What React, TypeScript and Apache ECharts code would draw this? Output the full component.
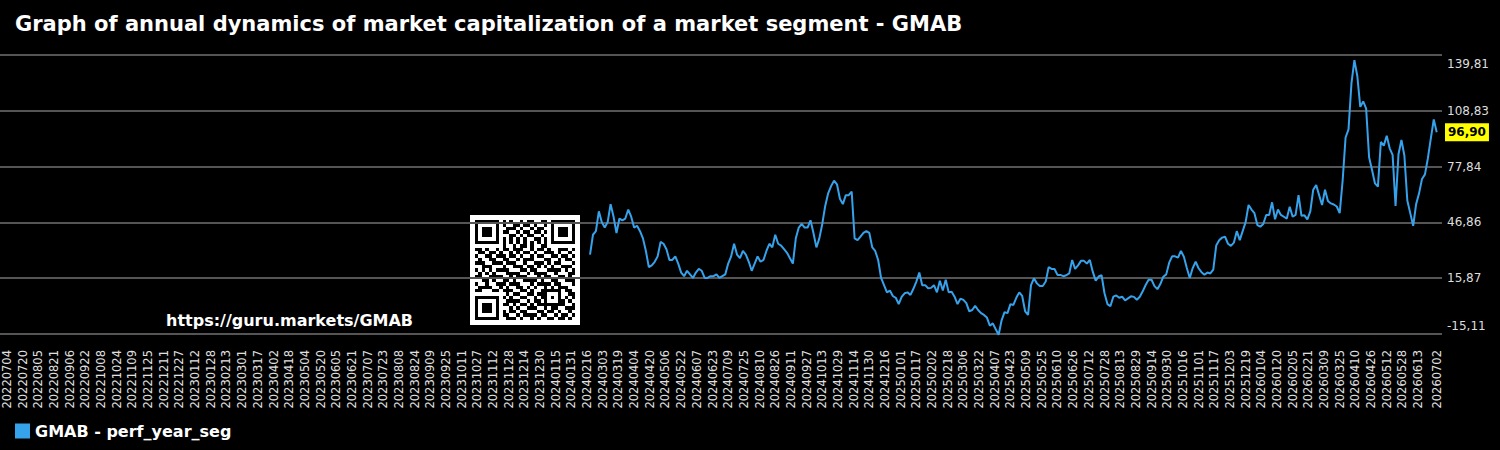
import React, { useEffect, useRef } from "react";
import * as echarts from "echarts";

const FONT = "DejaVu Sans";
const TITLE = "Graph of annual dynamics of market capitalization of a market segment - GMAB";
const SERIES_NAME = "GMAB - perf_year_seg";
const WATERMARK = "https://guru.markets/GMAB";

// Day axis: one slot per calendar day, a label every 16 days plus the last day.
const AXIS_START = "20220704";
const AXIS_END = "20260702";
const LABEL_STEP_DAYS = 16;

// perf_year_seg, sampled every 3 days starting on SERIES_START.
const SERIES_START = "20240219";
const SAMPLE_STEP_DAYS = 3;
const perfYearSeg = [
  29, 40, 42, 53, 47, 44, 47, 57, 50, 41,
  49, 48, 49, 54, 50, 44, 45, 42, 38, 31,
  22, 23, 25, 28, 36, 35, 32, 26, 26, 28,
  24, 19, 17, 20, 18, 16, 19, 21, 20, 16,
  16, 17, 17, 18, 16, 17, 18, 24, 28, 35,
  29, 27, 31, 29, 25, 20, 24, 28, 25, 26,
  31, 35, 33, 40, 35, 34, 32, 30, 27, 24,
  38, 44, 46, 44, 44, 48, 41, 33, 38, 46,
  56, 63, 67, 70, 68, 60, 57, 62, 62, 64,
  38, 37, 39, 41, 42, 41, 33, 31, 26, 16,
  12, 8, 9, 6, 5, 1.5, 5.5, 7.5, 8, 6.6,
  10, 14, 19, 12, 12, 10.3, 10.5, 12, 8, 14.5,
  9, 15, 8, 8.4, 5.6, 1.5, 4.5, 3.8, 2, -2.5,
  -1.8, 0.5, -1.8, -3.5, -4.5, -6, -10.5, -9.2, -12.5, -15.5,
  -7.5, -3, -3.5, 1.5, 1, 5, 8, 6, -2.5, -4.5,
  12, 15.8, 13, 11.5, 11.5, 14, 22, 21, 21, 17.7,
  17.7, 17, 17.5, 18.5, 26, 21, 23, 25.5, 25.5, 24,
  26, 19.5, 14.5, 16.8, 17.5, 7.5, 1.5, 0.3, 5.6, 6.3,
  5, 5.6, 3.5, 4.7, 5.8, 5.5, 3.9, 5.6, 8.6, 12.1,
  15, 15, 11.5, 9.8, 12.6, 16.7, 18, 24.5, 28, 28,
  27.3, 31, 27.8, 21.5, 16, 21.5, 25, 21.4, 19.2, 17.8,
  19, 18.5, 20.6, 34, 37, 38.4, 38.9, 35, 33.8, 35.6,
  42, 37, 42, 47, 56.5, 54, 52, 45.4, 44.5, 46,
  51, 51, 58, 48.6, 54, 51, 50, 49, 55.6, 50,
  51, 62, 50.5, 50.8, 48.5, 53, 65, 67.6, 62, 56.5,
  65, 58.7, 57.4, 56.8, 55.7, 52, 70, 94, 98.5, 124,
  137, 128, 111, 114, 110, 83, 76, 68.5, 66.7, 91.5,
  89.5, 95, 88, 84.3, 56, 84.7, 92.6, 84, 59, 52,
  45, 57, 63, 71, 73.5, 82.5, 93.5, 104, 96.9,
];

// Value axis ticks.
const yTicks = [-15.11, 15.874, 46.858, 77.842, 108.826, 139.81];

// Decorative QR block modules (overlaid with finder / timing / alignment marks).
const QR_BITS = [
  "10110011101001011001110100110",
  "01101100100110110100101101001",
  "11010110011101001011011010110",
  "00101101110010110110100101101",
  "11001001001101011001011010010",
  "01110110101010100110101101101",
  "10101010101010101010101010101",
  "11011001100101101001101100110",
  "11010010110111001011010011101",
  "01101101001010110100111010010",
  "10011011101101001011001101101",
  "01001100110010111000110010110",
  "11100111011100100111010110001",
  "00111000100111011010101001110",
  "10101011110001101100011110101",
  "01010100011110010111100100011",
  "11001111001011100010110011010",
  "00110100110100111101001100111",
  "10010011101110001011110110001",
  "01111001010011010100101011100",
  "11000110111001101001011110110",
  "00101110010110011011001010011",
  "10110101101001100101110100101",
  "01001011011110010110101101010",
  "11101000110101101011010011001",
  "00110111001010011100101100111",
  "10011100101101100011011010010",
  "01100011110010111101100101101",
  "11011010011101001010011011010",
];

const DAY_MS = 86400000;
const parseYmd = (s: string) =>
  Date.UTC(+s.slice(0, 4), +s.slice(4, 6) - 1, +s.slice(6, 8));
const dayIndex = (s: string) => Math.round((parseYmd(s) - parseYmd(AXIS_START)) / DAY_MS);
const formatDay = (i: number) => {
  const d = new Date(parseYmd(AXIS_START) + Math.round(i) * DAY_MS);
  const m = String(d.getUTCMonth() + 1).padStart(2, "0");
  const dd = String(d.getUTCDate()).padStart(2, "0");
  return `${d.getUTCFullYear()}${m}${dd}`;
};
const fmtNum = (v: number) => Number(v).toFixed(2).replace(".", ",");

function buildQr() {
  const N = 29;
  const grid: number[][] = [];
  for (let r = 0; r < N; r++) {
    const row: number[] = [];
    for (let c = 0; c < N; c++) row.push((QR_BITS[r] || "").charAt(c) === "1" ? 1 : 0);
    grid.push(row);
  }
  const finder = (r0: number, c0: number) => {
    for (let r = -1; r <= 7; r++)
      for (let c = -1; c <= 7; c++) {
        const rr = r0 + r, cc = c0 + c;
        if (rr < 0 || cc < 0 || rr >= N || cc >= N) continue;
        const ring = r === 0 || r === 6 || c === 0 || c === 6;
        const core = r >= 2 && r <= 4 && c >= 2 && c <= 4;
        const inside = r >= 0 && r <= 6 && c >= 0 && c <= 6;
        grid[rr][cc] = inside && (ring || core) ? 1 : 0;
      }
  };
  finder(0, 0);
  finder(0, 22);
  finder(22, 0);
  for (let i = 8; i <= 20; i++) {
    grid[6][i] = i % 2 === 0 ? 1 : 0;
    grid[i][6] = i % 2 === 0 ? 1 : 0;
  }
  for (let r = -2; r <= 2; r++)
    for (let c = -2; c <= 2; c++) {
      const edge = Math.abs(r) === 2 || Math.abs(c) === 2;
      grid[22 + r][22 + c] = edge || (r === 0 && c === 0) ? 1 : 0;
    }

  const size = 110;
  const pad = 5;
  const mod = (size - 2 * pad) / N;
  const pos = (k: number) => Math.round(pad + k * mod);
  const children: any[] = [
    { type: "rect", shape: { x: 0, y: 0, width: size, height: size }, style: { fill: "#ffffff" } },
  ];
  for (let r = 0; r < N; r++) {
    let c = 0;
    while (c < N) {
      if (grid[r][c] === 1) {
        let e = c;
        while (e < N && grid[r][e] === 1) e++;
        children.push({
          type: "rect",
          shape: { x: pos(c), y: pos(r), width: pos(e) - pos(c), height: pos(r + 1) - pos(r) },
          style: { fill: "#000000" },
        });
        c = e;
      } else c++;
    }
  }
  return { type: "group", x: 470, y: 215, silent: true, children };
}

export default function App() {
  const ref = useRef<HTMLDivElement>(null);

  useEffect(() => {
    if (!ref.current) return;
    const chart = echarts.init(ref.current, null, { renderer: "svg" });

    // Regular labels every 16 days; the final day gets its own label and
    // crowds out a regular one that would sit right next to it.
    const lastDay = dayIndex(AXIS_END);
    const xLabels: number[] = [];
    for (let i = 0; i <= lastDay; i += LABEL_STEP_DAYS) {
      if (lastDay - i >= LABEL_STEP_DAYS / 2) xLabels.push(i);
    }
    xLabels.push(lastDay);

    const start = dayIndex(SERIES_START);
    const data = perfYearSeg.map((v, k) => [start + k * SAMPLE_STEP_DAYS, v]);
    const lastValue = perfYearSeg[perfYearSeg.length - 1];

    chart.setOption({
      animation: false,
      backgroundColor: "#000000",
      textStyle: { fontFamily: FONT },
      title: {
        text: TITLE,
        left: 10,
        top: 8,
        textStyle: { color: "#ffffff", fontSize: 21, fontWeight: "bold", fontFamily: FONT },
      },
      legend: {
        left: 10,
        top: 418,
        icon: "rect",
        itemWidth: 15,
        itemHeight: 15,
        itemGap: 10,
        data: [SERIES_NAME],
        textStyle: { color: "#ffffff", fontSize: 16, fontWeight: "bold", fontFamily: FONT },
      },
      grid: { left: 0, right: 58, top: 55, bottom: 116 },
      xAxis: {
        type: "value",
        min: -7.1,
        max: 1464.4,
        splitLine: { show: false },
        axisLine: { show: false },
        axisTick: { show: false, customValues: xLabels },
        axisLabel: {
          customValues: xLabels,
          rotate: 90,
          margin: 16,
          color: "#e0e0e0",
          fontSize: 11.5,
          fontFamily: FONT,
          formatter: (v: number) => formatDay(v),
        },
      },
      yAxis: {
        type: "value",
        position: "right",
        min: yTicks[0],
        max: yTicks[yTicks.length - 1],
        axisLine: { show: false },
        axisTick: { show: false, customValues: yTicks },
        splitLine: { show: true, lineStyle: { color: "#555555", width: 2 } },
        axisLabel: {
          customValues: yTicks,
          margin: 5,
          color: "#dddddd",
          fontSize: 12,
          fontFamily: FONT,
          verticalAlignMinLabel: "bottom",
          verticalAlignMaxLabel: "top",
          padding: [3, 0, 2, 0],
          formatter: (v: number) => fmtNum(v),
        },
      },
      series: [
        {
          name: SERIES_NAME,
          type: "line",
          data,
          symbol: "none",
          showSymbol: false,
          clip: false,
          color: "#36a2eb",
          lineStyle: { color: "#36a2eb", width: 2 },
          itemStyle: { color: "#36a2eb" },
          markLine: {
            silent: true,
            symbol: "none",
            lineStyle: { color: "rgba(0,0,0,0)", width: 0, type: "solid" },
            label: {
              show: true,
              position: "end",
              distance: 3,
              color: "#000000",
              backgroundColor: "#ffff00",
              fontWeight: "bold",
              fontSize: 12,
              fontFamily: FONT,
              padding: [3, 3, 3, 3],
              formatter: (p: any) => fmtNum(p.value),
            },
            data: [{ yAxis: lastValue }],
          },
        },
      ],
      graphic: [
        {
          type: "text",
          left: 166,
          top: 312,
          silent: true,
          style: { text: WATERMARK, fill: "#ffffff", font: `bold 16px "${FONT}"` },
        },
        buildQr(),
      ],
    });

    return () => chart.dispose();
  }, []);

  return (
    <div
      ref={ref}
      style={{ position: "fixed", left: 0, top: 0, width: 1500, height: 450, background: "#000" }}
    />
  );
}
